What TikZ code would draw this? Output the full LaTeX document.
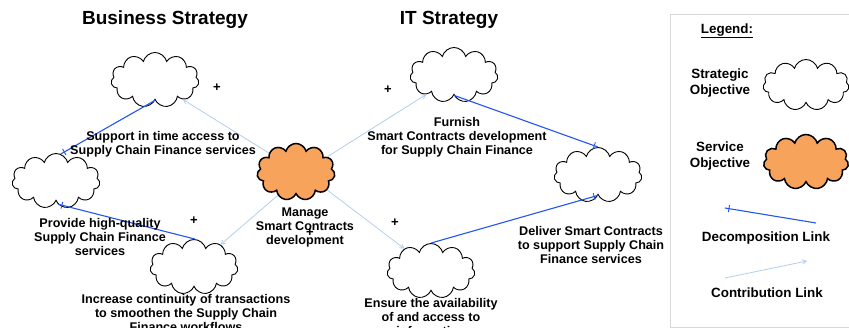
\documentclass[tikz,border=0pt]{standalone}
\usepackage{fontspec}
\setmainfont{Liberation Sans}
\usetikzlibrary{shapes.symbols,arrows.meta,decorations.markings}
\definecolor{svcorange}{RGB}{247,163,92}
\definecolor{decblue}{RGB}{35,85,240}
\definecolor{conblue}{RGB}{178,206,238}
\definecolor{boxgray}{RGB}{215,215,215}

\begin{document}
\begin{tikzpicture}[x=1pt,y=-1pt,
	obj/.style={cloud,cloud puffs=11,cloud ignores aspect,draw,inner sep=0pt},
	strat/.style={obj,line width=0.9pt,minimum width=88pt,minimum height=55pt},
	serv/.style={obj,line width=1.5pt,fill=svcorange,minimum width=78pt,minimum height=57pt},
	decomp/.style={decblue,line width=1.1pt,postaction={decorate},
		decoration={markings,mark=at position -4pt with {\draw[decblue,line width=0.9pt] (0,-3.5pt) -- (0,3.5pt);}}},
	contrib/.style={conblue,line width=0.8pt,-{Straight Barb[angle=60:2pt 3]}},
	ttl/.style={font=\bfseries\fontsize{19}{22}\selectfont},
	lbl/.style={font=\bfseries\fontsize{12.6}{14}\selectfont,align=center,inner sep=0pt},
	leg/.style={font=\bfseries\fontsize{13.4}{16}\selectfont,align=center,inner sep=0pt},
	pls/.style={font=\bfseries\fontsize{13}{14}\selectfont,inner sep=0pt}]
	\useasboundingbox (0,0) rectangle (849,328);% size of the reference
	% titles
	\node[ttl] (bs) at (165,20) {Business Strategy};
	\node[ttl] (its) at (449,20) {IT Strategy};
	% objectives
	\node[strat] (sup) at (155,80) {};
	\node[strat] (prov) at (56,181) {};
	\node[strat] (incr) at (194,267) {};
	\node[serv] (mng) at (296,172) {};
	\node[strat] (furn) at (454,75) {};
	\node[strat] (dlv) at (598,175) {};
	\node[strat] (ens) at (431,271) {};
	% links
	\draw[decomp] (sup.270) -- (prov.80);
	\draw[decomp] (incr.88) -- (prov.275);
	\draw[decomp] (furn.270) -- (dlv.90);
	\draw[decomp] (ens.90) -- (dlv.270);
	\draw[contrib] (mng.145) -- (sup.325);
	\draw[contrib] (mng.232) -- (incr.40);
	\draw[contrib] (mng.26) -- (furn.215);
	\draw[contrib] (mng.330) -- (ens.140);
	% texts
	\node[lbl] (supT) at (163,144) {Support in time access to\\Supply Chain Finance services};
	\node[lbl] (provT) at (100,237) {Provide high-quality\\Supply Chain Finance\\services};
	\node[lbl] (incrT) at (186,313) {Increase continuity of transactions\\to smoothen the Supply Chain\\Finance workflows};
	\node[lbl] (mngT) at (305,227) {Manage\\Smart Contracts\\development};
	\node[lbl] (furnT) at (457,137) {Furnish\\Smart Contracts development\\for Supply Chain Finance};
	\node[lbl] (dlvT) at (591,245) {Deliver Smart Contracts\\to support Supply Chain\\Finance services};
	\node[lbl] (ensT) at (431,317) {Ensure the availability\\of and access to\\information};
	\node[pls] (p1) at (217,88) {+};
	\node[pls] (p2) at (194,221) {+};
	\node[pls] (p3) at (388,90) {+};
	\node[pls] (p4) at (395,223) {+};
	\node[pls] (p5) at (310,233) {+};
	% legend
	\draw[boxgray] (670,14) rectangle (852,327);
	\node[leg] (lgd) at (727,31) {\underline{Legend:}};
	\node[leg] (stratT) at (720,83) {Strategic\\Objective};
	\node[strat,minimum width=86pt,minimum height=51pt] (stratL) at (806,85) {};
	\node[leg] (servT) at (720,156) {Service\\Objective};
	\node[serv,minimum width=85pt,minimum height=55pt] (servL) at (806,162) {};
	\coordinate (decA) at (816,223);
	\coordinate (decB) at (725,208);
	\draw[decomp] (decA) -- (decB);
	\node[leg] (decT) at (766,238) {Decomposition Link};
	\coordinate (conA) at (725,278);
	\coordinate (conB) at (807,261);
	\draw[contrib] (conA) -- (conB);
	\node[leg] (conT) at (767,293) {Contribution Link};
\end{tikzpicture}
\end{document}
